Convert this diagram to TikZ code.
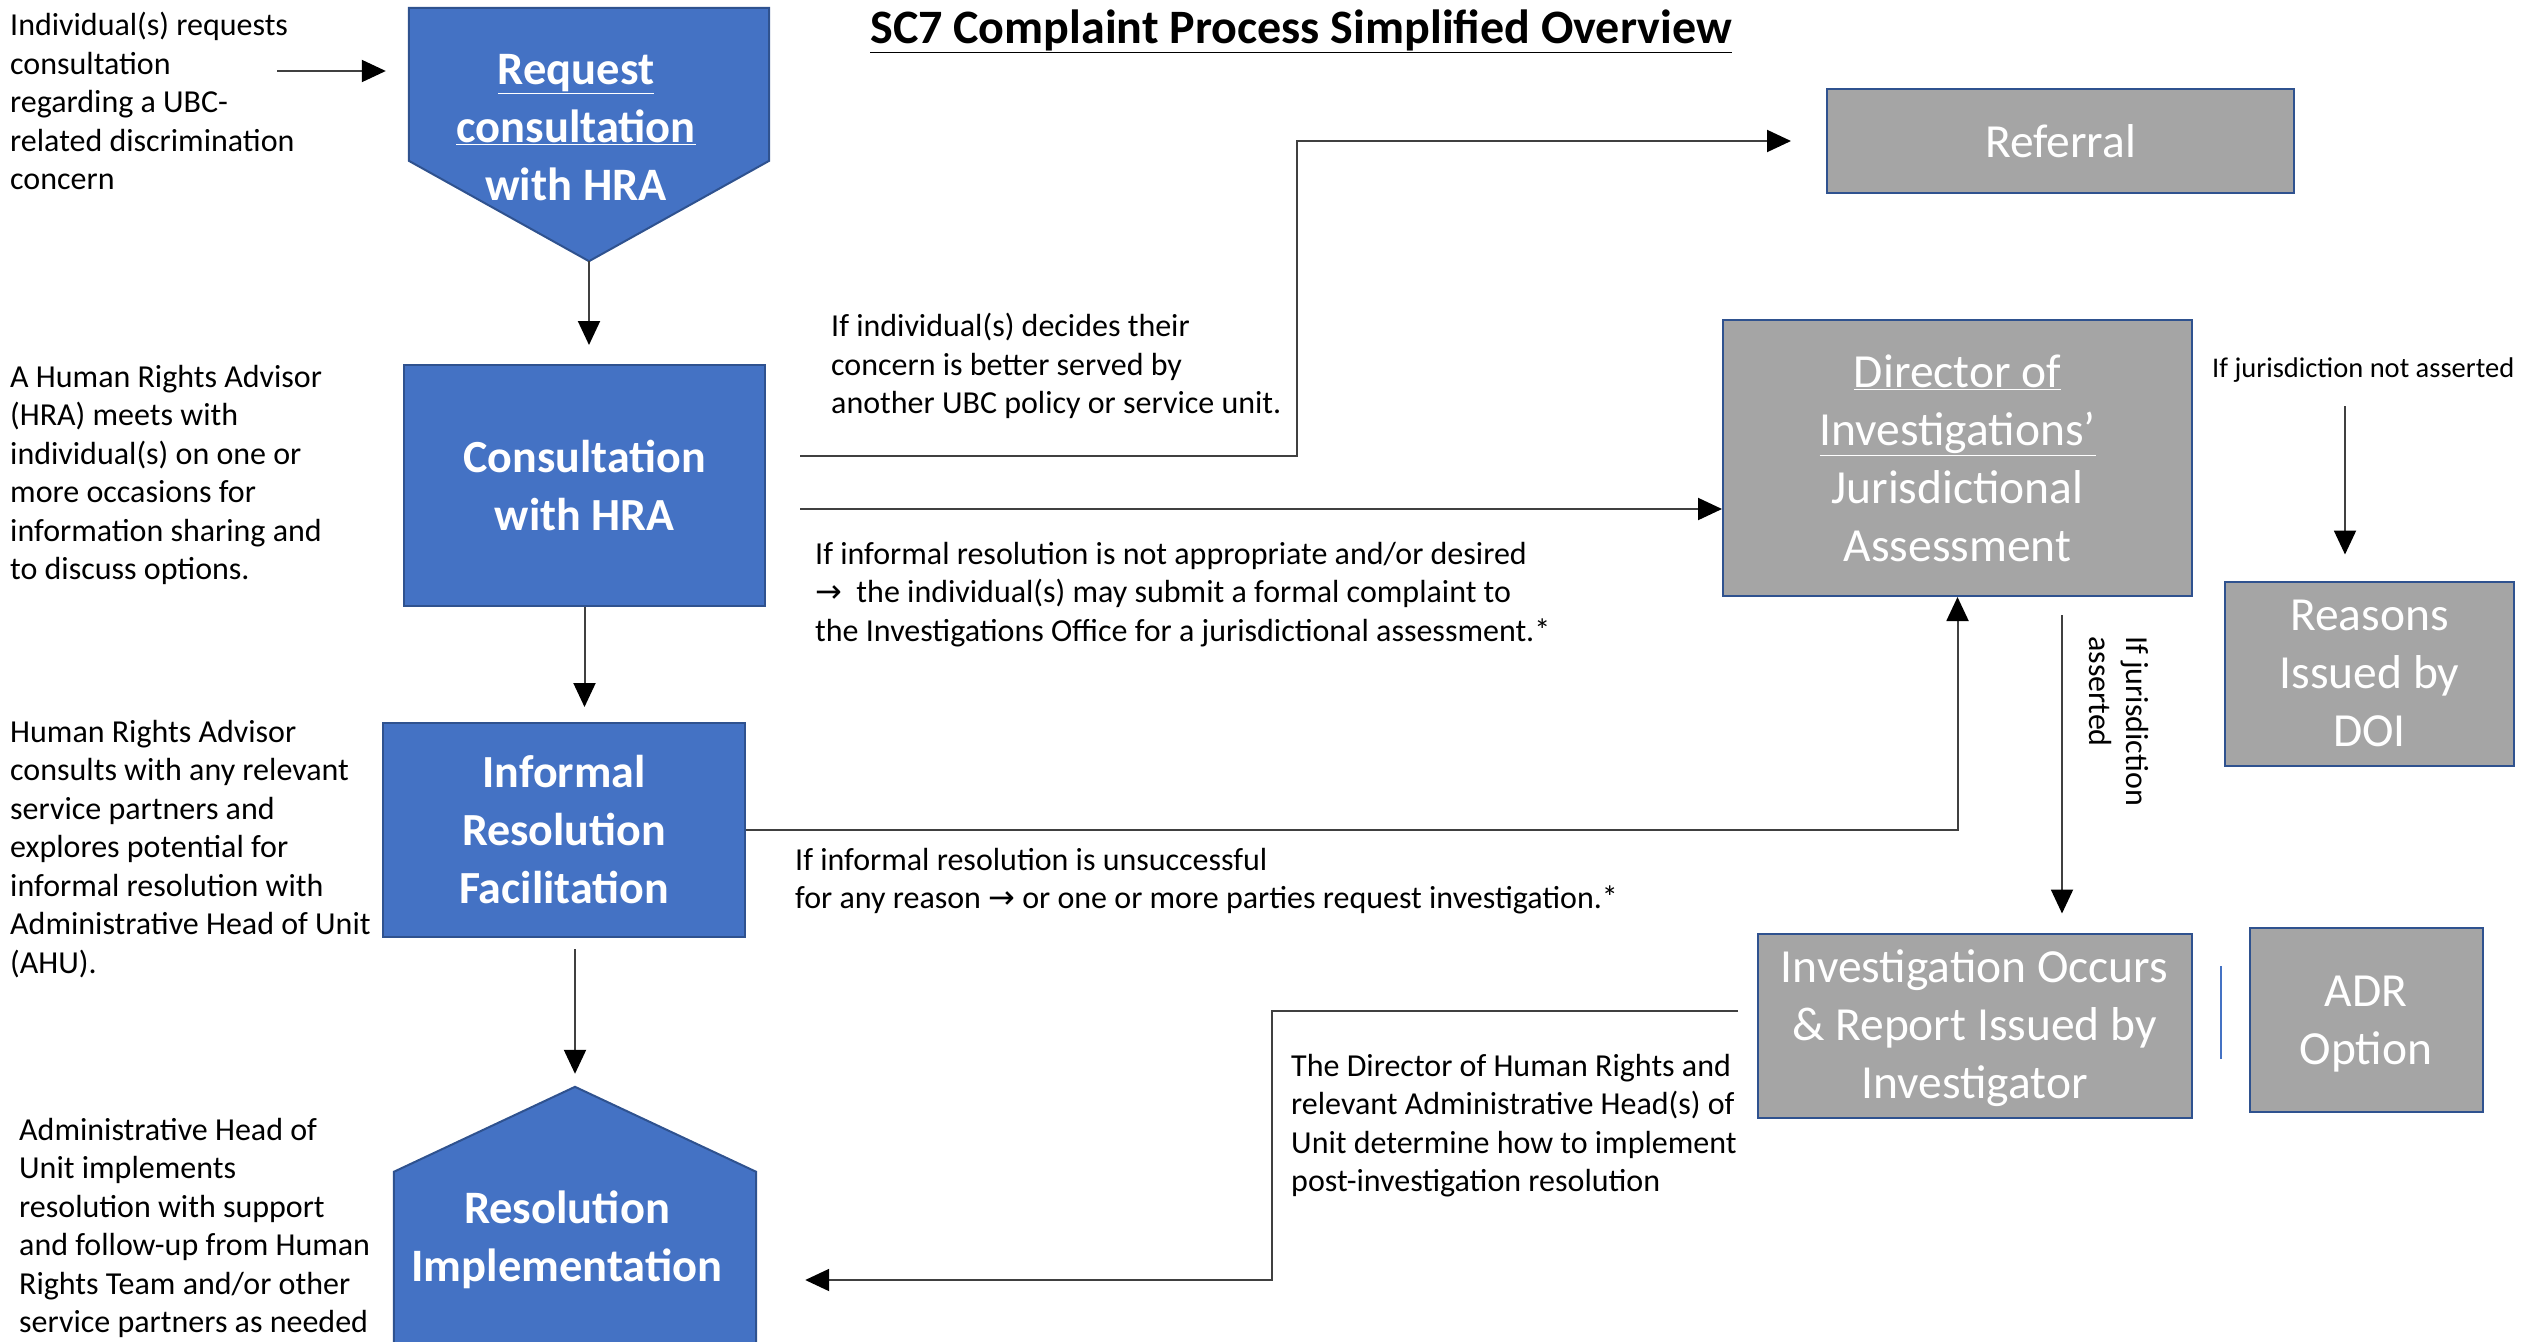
\documentclass[tikz,border=0pt]{standalone}
\usepackage{fontspec}
\setmainfont{Carlito}
\newfontfamily\symfont{DejaVu Sans}
\usetikzlibrary{arrows.meta,calc}
\definecolor{hrblue}{HTML}{4472C4}
\definecolor{hrborder}{HTML}{2F528F}
\definecolor{hrgray}{HTML}{A5A5A5}
\definecolor{hrline}{HTML}{404040}
\newcommand\rarr{{\symfont →}}
\begin{document}
\begin{tikzpicture}[x=1pt,y=-1pt,
  bluebox/.style={draw=hrborder, line width=2pt, fill=hrblue, text=white, font=\fontsize{46}{58}\selectfont\bfseries, align=center, inner sep=0pt},
  graybox/.style={draw=hrborder, line width=2pt, fill=hrgray, text=white, font=\fontsize{47.5}{58}\selectfont, align=center, inner sep=0pt},
  shapefill/.style={draw=hrborder, line width=2pt, fill=hrblue},
  boxtext/.style={text=white, font=\fontsize{46.5}{58}\selectfont\bfseries, align=center, inner sep=0pt},
  note/.style={font=\fontsize{32}{38.5}\selectfont, align=left, inner sep=0pt, anchor=north west},
  conn/.style={draw=hrline, line width=2pt, -{Triangle[length=24pt,width=22pt,color=black]}},
  hole/.style={inner sep=0pt, draw=none},
]
\useasboundingbox (0,0) rectangle (2524,1341);

% title
\node[font=\fontsize{48}{56}\selectfont\bfseries, anchor=base, inner sep=0pt] (title) at (1301,43) {\underline{SC7 Complaint Process Simplified Overview}};

% request pentagon (pointing down)
\node[hole, minimum width=360pt, minimum height=253pt] (req) at (589,134.5) {};
\path[shapefill] (req.north west) -- (req.north east) -- ($(req.north east)+(0,153)$) -- (req.south) -- ($(req.north west)+(0,153)$) -- cycle;
\node[boxtext] (reqtxt) at (576,128) {\underline{Request}\\\underline{consultation}\\with HRA};

% blue boxes
\node[bluebox, minimum width=361pt, minimum height=241pt] (cons) at (584.5,485.5) {Consultation\\with HRA};
\node[bluebox, minimum width=362pt, minimum height=214pt] (inf) at (564,830) {Informal\\Resolution\\Facilitation};

% resolution pentagon (pointing up)
\node[hole, minimum width=362pt, minimum height=264pt] (res) at (575,1219) {};
\path[shapefill] (res.north) -- ($(res.north east)+(0,85)$) -- (res.south east) -- (res.south west) -- ($(res.north west)+(0,85)$) -- cycle;
\node[boxtext] (restxt) at (567,1240) {Resolution\\Implementation};

% gray boxes
\node[graybox, minimum width=467pt, minimum height=104pt] (ref) at (2060.5,141) {Referral};
\node[graybox, minimum width=469pt, minimum height=276pt] (dir) at (1957.5,458) {\underline{Director of}\\\underline{Investigations’}\\Jurisdictional\\Assessment};
\node[graybox, minimum width=289pt, minimum height=184pt] (rea) at (2369.5,673.5) {Reasons\\Issued by\\DOI};
\node[graybox, minimum width=434pt, minimum height=184pt] (inv) at (1974.5,1025.5) {\rule{0pt}{38pt}Investigation Occurs\\\& Report Issued by\\Investigator};
\node[graybox, minimum width=233pt, minimum height=184pt] (adr) at (2366,1019.5) {\rule{0pt}{40pt}ADR\\Option};
\draw[hrblue, line width=1.5pt] (2221,966) -- (2221,1059);

% notes
\node[note] (t1) at (10,12) {Individual(s) requests\\consultation\\regarding a UBC-\\related discrimination\\concern};
\node[note] (t2) at (10,365) {A Human Rights Advisor\\(HRA) meets with\\individual(s) on one or\\more occasions for\\information sharing and\\to discuss options.};
\node[note] (t3) at (10,720) {Human Rights Advisor\\consults with any relevant\\service partners and\\explores potential for\\informal resolution with\\Administrative Head of Unit\\(AHU).};
\node[note] (t4) at (19,1118) {Administrative Head of\\Unit implements\\resolution with support\\and follow-up from Human\\Rights Team and/or other\\service partners as needed};
\node[note] (t5) at (831,313) {If individual(s) decides their\\concern is better served by\\another UBC policy or service unit.};
\node[note] (t6) at (815,542) {If informal resolution is not appropriate and/or desired\\\rarr\ \ the individual(s) may submit a formal complaint to\\the Investigations Office for a jurisdictional assessment.*};
\node[note] (t7) at (795,848) {If informal resolution is unsuccessful\\for any reason \rarr\ or one or more parties request investigation.*};
\node[note] (t8) at (1291,1054) {The Director of Human Rights and\\relevant Administrative Head(s) of\\Unit determine how to implement\\post-investigation resolution};
\node[note, anchor=west, font=\fontsize{28.5}{34}\selectfont] (na) at (2212,370) {If jurisdiction not asserted};
\node[note, rotate=-90, anchor=north west, font=\fontsize{32}{37}\selectfont] (as) at (2149,636) {If jurisdiction\\asserted};

% connectors
\coordinate (inS) at (277,71);
\draw[conn, shorten >=23pt] (inS) -- (inS -| req.west);
\draw[conn, shorten >=19pt] (req.south) -- (req.south |- cons.north);
\draw[conn, shorten >=15pt] (cons.south) -- (cons.south |- inf.north);
\draw[conn, shorten <=11pt, shorten >=13pt] (inf.south -| res.north) -- (res.north);
\coordinate (refS) at (800,456);
\coordinate (refK) at (1297,456);
\draw[conn, shorten >=35pt] (refS) -- (refK) |- (ref.west);
\coordinate (dirS) at (800,509);
\draw[conn] (dirS) -- (dirS -| dir.west);
\draw[conn] (inf.east) -| (dir.south);
\coordinate (naS) at (2345,406);
\draw[conn, shorten >=26pt] (naS) -- (naS |- rea.north);
\coordinate (asS) at (2062,615);
\draw[conn, shorten >=19pt] (asS) -- (asS |- inv.north);
\coordinate (irS) at (1738,1011);
\coordinate (irK) at (1272,1011);
\draw[conn, shorten >=49pt] (irS) -- (irK) |- ($(res.east)+(0,61)$);
\end{tikzpicture}
\end{document}
